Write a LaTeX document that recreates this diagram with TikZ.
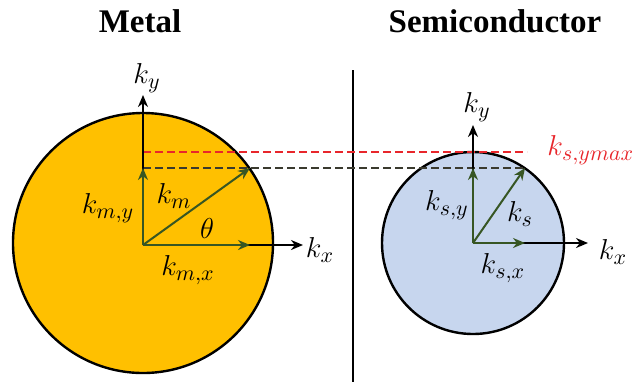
\documentclass[tikz,border=0pt]{standalone}
\usepackage{fontspec}
\setmainfont{Liberation Serif}
\usetikzlibrary{arrows.meta}

\definecolor{metalfill}{HTML}{FFC000}
\definecolor{semifill}{HTML}{C7D6EE}
\definecolor{vecgreen}{HTML}{375623}
\definecolor{maxred}{HTML}{E8262B}
\definecolor{darkdash}{HTML}{3A3A2E}

\tikzset{
  >={Stealth[length=6pt,width=5pt]},
  axis/.style={line width=1pt,->},
  vec/.style={line width=1pt,->,vecgreen},
  title/.style={font=\fontsize{16.5}{18}\selectfont\bfseries},
  lbl/.style={font=\fontsize{15}{17}\selectfont},
}

\begin{document}
\begin{tikzpicture}[x=0.5pt,y=-0.5pt]
    \useasboundingbox (0,0) rectangle (641,382);

    % Titles
    \node[title] (tmetal) at (140,21) {Metal};
    \node[title] (tsemi) at (495,21) {Semiconductor};

    % Divider
    \coordinate (dtop) at (353,70);
    \coordinate (dbot) at (353,382);
    \draw[line width=1pt] (dtop) -- (dbot);

    % Fermi circles
    \draw[line width=1.2pt, fill=metalfill] (143,243) circle (130);
    \draw[line width=1.2pt, fill=semifill] (473,243) circle (91);

    % Points
    \coordinate (mo) at (143,245);
    \coordinate (mytip) at (143,95);
    \coordinate (mxtip) at (303,245);
    \coordinate (mk) at (250,168);
    \coordinate (mky) at (143,168);
    \coordinate (mkx) at (250,245);
    \coordinate (so) at (473,243);
    \coordinate (sytip) at (473,125);
    \coordinate (sxtip) at (588,243);
    \coordinate (sk) at (525,168);
    \coordinate (sky) at (473,168);
    \coordinate (skx) at (525,243);
    \coordinate (redl) at (143,152);
    \coordinate (redr) at (527,152);

    % Dashed levels
    \draw[line width=0.75pt, maxred, dash pattern=on 4pt off 2pt] (redl) -- (redr);
    \draw[line width=0.75pt, darkdash, dash pattern=on 4pt off 2pt] (mky) -- (sk);

    % Axes
    \draw[axis] (mo) -- (mytip);
    \draw[axis] (mo) -- (mxtip);
    \draw[axis] (so) -- (sytip);
    \draw[axis] (so) -- (sxtip);

    % Wave vectors
    \draw[vec] (mo) -- (mky);
    \draw[vec] (mo) -- (mkx);
    \draw[vec] (mo) -- (mk);
    \draw[vec] (so) -- (sky);
    \draw[vec] (so) -- (skx);
    \draw[vec] (so) -- (sk);

    % Labels
    \node[lbl] (lmy) at (147,78) {$k_y$};
    \node[lbl] (lmx) at (320,250) {$k_x$};
    \node[lbl] (lkmy) at (108,208) {$k_{m,y}$};
    \node[lbl] (lkm) at (174,196) {$k_m$};
    \node[lbl] (lth) at (207,228) {$\theta$};
    \node[lbl] (lkmx) at (188,270) {$k_{m,x}$};
    \node[lbl] (lsy) at (477,107) {$k_y$};
    \node[lbl] (lsx) at (613,252) {$k_x$};
    \node[lbl] (lksy) at (447,205) {$k_{s,y}$};
    \node[lbl] (lks) at (520,214) {$k_s$};
    \node[lbl] (lksx) at (503,268) {$k_{s,x}$};
    \node[lbl, text=maxred, anchor=west, inner sep=0pt] (lmax) at (547,150) {$k_{s,ymax}$};
\end{tikzpicture}
\end{document}
